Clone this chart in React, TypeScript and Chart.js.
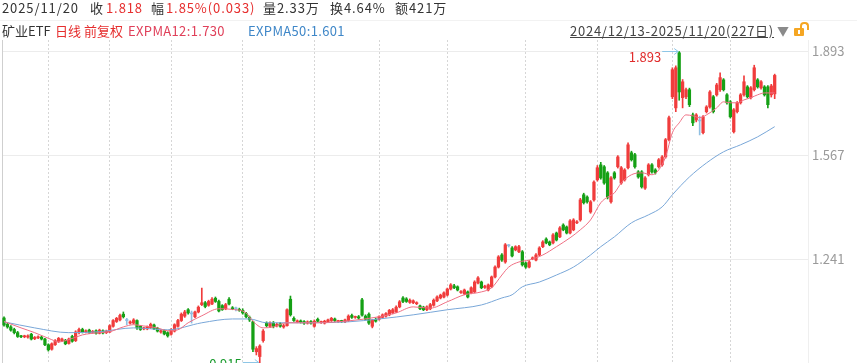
import React, { useEffect, useRef } from "react";
import { Chart, registerables } from "chart.js";
Chart.register(...registerables);

// OHLC of 矿业ETF, 2024/12/13 - 2025/11/20 (227 trading days)
const opens = [
  1.056,1.036,1.028,1.020,1.010,0.999,0.997,0.996,1.005,0.991,0.994,0.996,0.990,0.972,0.958,0.972,0.982,0.985,0.986,0.976,
  0.998,0.985,1.010,1.020,1.012,1.018,1.011,1.016,1.008,1.016,1.010,1.012,1.030,1.045,1.050,1.068,1.048,1.040,1.040,1.048,
  1.030,1.022,1.022,1.026,1.034,1.024,1.012,1.016,1.010,1.005,1.015,1.030,1.048,1.062,1.082,1.069,1.060,1.075,1.098,1.104,
  1.096,1.100,1.118,1.108,1.095,1.085,1.115,1.088,1.085,1.083,1.080,1.070,1.058,1.044,0.950,0.935,0.985,1.040,1.030,1.040,
  1.032,1.038,1.028,1.032,1.115,1.055,1.044,1.047,1.045,1.040,1.045,1.030,1.052,1.042,1.040,1.044,1.048,1.053,1.045,1.046,
  1.044,1.048,1.064,1.058,1.060,1.113,1.062,1.068,1.030,1.052,1.052,1.058,1.062,1.066,1.072,1.076,1.091,1.119,1.116,1.105,
  1.104,1.101,1.094,1.090,1.082,1.085,1.096,1.110,1.119,1.122,1.128,1.147,1.157,1.154,1.136,1.132,1.138,1.135,1.138,1.166,
  1.169,1.152,1.144,1.154,1.185,1.216,1.254,1.232,1.283,1.276,1.270,1.264,1.264,1.229,1.216,1.242,1.238,1.254,1.280,1.304,
  1.295,1.292,1.323,1.311,1.348,1.342,1.323,1.333,1.355,1.364,1.443,1.436,1.389,1.427,1.490,1.537,1.531,1.512,1.421,1.512,
  1.531,1.480,1.490,1.528,1.575,1.569,1.515,1.515,1.464,1.506,1.537,1.521,1.531,1.537,1.562,1.616,1.751,1.716,1.889,1.748,
  1.751,1.773,1.694,1.678,1.675,1.638,1.704,1.719,1.751,1.757,1.773,1.804,1.757,1.735,1.641,1.704,1.732,1.757,1.782,1.748,
  1.773,1.804,1.779,1.782,1.782,1.757,1.760,
];
const highs = [
  1.060,1.040,1.032,1.024,1.014,1.002,1.002,1.003,1.008,0.998,1.000,0.999,0.992,0.975,0.978,0.988,0.995,0.993,0.989,0.993,
  1.002,1.016,1.024,1.024,1.019,1.021,1.017,1.019,1.021,1.019,1.018,1.035,1.051,1.058,1.068,1.075,1.055,1.047,1.054,1.050,
  1.033,1.027,1.031,1.040,1.037,1.027,1.020,1.019,1.013,1.023,1.038,1.052,1.072,1.080,1.086,1.078,1.078,1.094,1.150,1.108,
  1.112,1.120,1.122,1.112,1.098,1.102,1.120,1.092,1.090,1.087,1.085,1.074,1.062,1.046,0.966,0.972,1.020,1.044,1.044,1.045,
  1.040,1.042,1.036,1.085,1.125,1.060,1.050,1.050,1.048,1.047,1.048,1.050,1.056,1.046,1.049,1.053,1.058,1.056,1.049,1.049,
  1.053,1.066,1.068,1.062,1.064,1.118,1.066,1.072,1.052,1.056,1.063,1.069,1.073,1.083,1.086,1.094,1.111,1.123,1.120,1.116,
  1.113,1.107,1.097,1.093,1.094,1.102,1.116,1.126,1.131,1.138,1.150,1.164,1.162,1.157,1.142,1.147,1.141,1.154,1.173,1.186,
  1.172,1.159,1.163,1.188,1.220,1.252,1.258,1.290,1.287,1.280,1.283,1.284,1.268,1.232,1.236,1.248,1.258,1.280,1.299,1.308,
  1.298,1.321,1.326,1.343,1.352,1.345,1.365,1.368,1.362,1.432,1.448,1.440,1.425,1.487,1.535,1.545,1.535,1.516,1.500,1.516,
  1.566,1.532,1.525,1.606,1.580,1.573,1.519,1.519,1.500,1.541,1.541,1.525,1.557,1.566,1.620,1.690,1.842,1.848,1.893,1.805,
  1.778,1.778,1.700,1.698,1.690,1.692,1.723,1.770,1.755,1.793,1.826,1.808,1.761,1.739,1.714,1.736,1.761,1.817,1.786,1.783,
  1.850,1.808,1.802,1.786,1.786,1.790,1.822,
];
const lows = [
  1.030,1.024,1.015,1.006,0.995,0.994,0.994,0.993,0.987,0.988,0.991,0.987,0.969,0.952,0.955,0.970,0.979,0.982,0.972,0.974,
  0.980,0.982,1.006,1.009,1.009,1.007,1.008,1.005,1.006,1.006,1.007,1.010,1.027,1.042,1.047,1.056,1.035,1.037,1.037,1.020,
  1.017,1.019,1.019,1.023,1.019,1.012,1.008,1.003,0.996,1.002,1.012,1.027,1.045,1.058,1.068,1.040,1.057,1.072,1.095,1.088,
  1.093,1.098,1.105,1.075,1.080,1.082,1.097,1.082,1.078,1.077,1.068,1.056,1.045,0.950,0.940,0.915,0.980,1.028,1.026,1.025,
  1.028,1.027,1.024,1.030,1.062,1.045,1.041,1.040,1.036,1.037,1.037,1.027,1.043,1.039,1.037,1.041,1.045,1.045,1.042,1.042,
  1.041,1.045,1.055,1.055,1.052,1.062,1.050,1.036,1.025,1.043,1.049,1.055,1.059,1.063,1.069,1.073,1.088,1.104,1.105,1.102,
  1.101,1.098,1.082,1.079,1.079,1.082,1.093,1.107,1.116,1.119,1.125,1.144,1.148,1.141,1.133,1.129,1.119,1.132,1.135,1.163,
  1.148,1.149,1.141,1.151,1.182,1.213,1.234,1.228,1.279,1.248,1.267,1.261,1.219,1.212,1.213,1.239,1.235,1.251,1.277,1.289,
  1.283,1.289,1.298,1.308,1.330,1.320,1.320,1.330,1.352,1.360,1.414,1.417,1.385,1.423,1.486,1.492,1.476,1.430,1.417,1.492,
  1.527,1.476,1.486,1.524,1.549,1.527,1.495,1.464,1.460,1.502,1.511,1.508,1.527,1.533,1.558,1.612,1.745,1.704,1.740,1.716,
  1.745,1.720,1.660,1.672,1.631,1.634,1.700,1.715,1.700,1.753,1.768,1.769,1.728,1.684,1.637,1.700,1.728,1.753,1.747,1.744,
  1.769,1.778,1.775,1.753,1.716,1.750,1.745,
];
const closes = [
  1.034,1.028,1.018,1.010,0.998,0.997,0.999,1.000,0.990,0.995,0.997,0.990,0.972,0.956,0.975,0.985,0.992,0.990,0.975,0.990,
  0.983,1.012,1.020,1.012,1.016,1.010,1.014,1.008,1.018,1.009,1.015,1.032,1.048,1.055,1.064,1.060,1.048,1.044,1.050,1.025,
  1.020,1.024,1.028,1.036,1.022,1.015,1.016,1.006,1.000,1.020,1.035,1.048,1.068,1.075,1.072,1.069,1.075,1.090,1.104,1.092,
  1.108,1.115,1.108,1.078,1.082,1.098,1.100,1.085,1.085,1.080,1.072,1.060,1.050,0.958,0.960,0.968,1.015,1.032,1.040,1.030,
  1.036,1.030,1.032,1.082,1.066,1.048,1.047,1.043,1.040,1.044,1.040,1.046,1.046,1.043,1.046,1.050,1.055,1.048,1.046,1.045,
  1.050,1.062,1.058,1.059,1.056,1.065,1.052,1.040,1.050,1.046,1.060,1.066,1.070,1.080,1.082,1.090,1.107,1.108,1.108,1.112,
  1.110,1.104,1.085,1.082,1.091,1.098,1.112,1.122,1.128,1.135,1.147,1.160,1.151,1.144,1.139,1.144,1.122,1.151,1.169,1.182,
  1.151,1.156,1.160,1.185,1.216,1.248,1.238,1.286,1.283,1.251,1.280,1.280,1.223,1.216,1.232,1.245,1.254,1.276,1.295,1.292,
  1.286,1.317,1.301,1.339,1.333,1.323,1.361,1.364,1.358,1.427,1.418,1.421,1.421,1.483,1.528,1.496,1.480,1.436,1.496,1.496,
  1.562,1.528,1.521,1.600,1.553,1.531,1.499,1.468,1.496,1.537,1.515,1.512,1.553,1.562,1.616,1.685,1.836,1.842,1.766,1.798,
  1.773,1.726,1.669,1.694,1.675,1.688,1.719,1.766,1.704,1.788,1.811,1.773,1.732,1.688,1.710,1.732,1.757,1.798,1.751,1.779,
  1.842,1.782,1.798,1.757,1.726,1.785,1.818,
];

// first trading day of each month (Jan .. Nov), used for the dotted vertical grid
const monthStarts = [13, 31, 49, 70, 91, 110, 130, 153, 174, 196, 213];
const priceTicks = [1.241, 1.567, 1.893];

// EXPMA lines (day index, value)
const ema12At = [0, 5, 9, 14, 16, 19, 23, 28, 31, 35, 38, 41, 45, 48, 51, 54, 58, 63, 67, 71, 73, 76, 79, 83, 87, 91, 101, 110, 115, 120, 125, 130, 135, 140, 143, 146, 148, 151, 154, 158, 162, 166, 169, 172, 175, 177, 179, 181, 184, 187, 190, 192, 194, 196, 198, 200, 202, 204, 206, 209, 211, 213, 215, 217, 219, 221, 223, 226];
const ema12 = [1.045, 1.025, 1.010, 0.988, 0.981, 0.988, 1.003, 1.010, 1.013, 1.028, 1.035, 1.031, 1.025, 1.016, 1.019, 1.041, 1.063, 1.085, 1.083, 1.072, 1.046, 1.025, 1.028, 1.041, 1.041, 1.041, 1.047, 1.060, 1.072, 1.091, 1.087, 1.107, 1.129, 1.138, 1.151, 1.191, 1.216, 1.232, 1.238, 1.254, 1.280, 1.308, 1.333, 1.364, 1.418, 1.436, 1.449, 1.480, 1.506, 1.512, 1.506, 1.521, 1.562, 1.638, 1.669, 1.694, 1.691, 1.685, 1.694, 1.716, 1.735, 1.732, 1.732, 1.741, 1.748, 1.757, 1.763, 1.763];
const ema50At = [0, 9, 19, 28, 38, 48, 58, 67, 72, 77, 87, 101, 110, 120, 130, 140, 146, 149, 152, 157, 162, 167, 172, 175, 179, 184, 189, 193, 196, 201, 206, 211, 216, 221, 226];
const ema50 = [1.044, 1.025, 1.010, 1.013, 1.025, 1.019, 1.041, 1.053, 1.053, 1.041, 1.041, 1.044, 1.053, 1.066, 1.082, 1.097, 1.119, 1.129, 1.154, 1.169, 1.191, 1.216, 1.254, 1.280, 1.311, 1.355, 1.380, 1.405, 1.443, 1.499, 1.543, 1.578, 1.600, 1.625, 1.657];

const UP = "#f03c3c";
const DOWN = "#15a015";
const FLAT = "#8fbfe2";
const FONT = '"Noto Sans CJK SC", "Noto Sans", sans-serif';

const txt = (left: number, top: number, text: string, color: string, extra: React.CSSProperties = {}) => (
  <span
    style={{
      position: "absolute",
      left,
      top,
      fontSize: 13,
      lineHeight: "16px",
      whiteSpace: "nowrap",
      color,
      fontFamily: FONT,
      ...extra,
    }}
  >
    {text}
  </span>
);

const row1 = { letterSpacing: "0.9px" };
const row2 = { letterSpacing: "0.35px" };

export default function App() {
  const ref = useRef<HTMLCanvasElement>(null);

  useEffect(() => {
    const canvas = ref.current;
    if (!canvas) return;
    const colors = closes.map((c, i) => (c > opens[i] ? UP : c < opens[i] ? DOWN : FLAT));

    const marks = {
      id: "marks",
      beforeDatasetsDraw(chart: any) {
        const { ctx, chartArea } = chart;
        ctx.save();
        ctx.strokeStyle = "#cfcfcf";
        ctx.lineWidth = 1;
        ctx.beginPath();
        ctx.moveTo(Math.floor(chartArea.left) + 0.5, chartArea.top);
        ctx.lineTo(Math.floor(chartArea.left) + 0.5, chartArea.bottom);
        ctx.stroke();
        ctx.restore();
      },
      afterDatasetsDraw(chart: any) {
        const { ctx } = chart;
        const xs = chart.scales.x;
        const ys = chart.scales.y;
        let hi = 0;
        let lo = 0;
        highs.forEach((h, i) => { if (h > highs[hi]) hi = i; });
        lows.forEach((l, i) => { if (l < lows[lo]) lo = i; });
        ctx.save();
        ctx.font = "13px " + FONT;
        const draw = (i: number, v: number, dy: number, color: string) => {
          const px = xs.getPixelForValue(i);
          const py = Math.round(ys.getPixelForValue(v)) - 0.5;
          const x0 = px - 17;
          ctx.strokeStyle = "#8ec6e6";
          ctx.lineWidth = 1;
          ctx.beginPath();
          ctx.moveTo(x0, py);
          ctx.lineTo(px - 1, py);
          ctx.moveTo(px - 1, py);
          ctx.lineTo(px - 5, py - 3);
          ctx.moveTo(px - 1, py);
          ctx.lineTo(px - 5, py + 3);
          ctx.stroke();
          ctx.fillStyle = color;
          ctx.textAlign = "right";
          ctx.textBaseline = "middle";
          ctx.fillText(v.toFixed(3), x0 - 1, py + dy);
        };
        draw(hi, highs[hi], 6, "#e02c2c");
        draw(lo, lows[lo], 2, "#169a2a");
        ctx.restore();
      },
    };

    const chart = new Chart(canvas, {
      type: "bar",
      data: {
        datasets: [
          {
            type: "line",
            label: "EXPMA12",
            data: ema12At.map((x, k) => ({ x, y: ema12[k] })),
            borderColor: "#ef7084",
            borderWidth: 1,
            pointRadius: 0,
            cubicInterpolationMode: "monotone",
            order: 0,
          } as any,
          {
            type: "line",
            label: "EXPMA50",
            data: ema50At.map((x, k) => ({ x, y: ema50[k] })),
            borderColor: "#79a7d8",
            borderWidth: 1,
            pointRadius: 0,
            cubicInterpolationMode: "monotone",
            order: 0,
          } as any,
          {
            type: "bar",
            label: "body",
            data: closes.map((c, i) => ({ x: i, y: [opens[i], c] })),
            backgroundColor: colors,
            barThickness: 2.6,
            minBarLength: 1,
            grouped: false,
            order: 1,
          } as any,
          {
            type: "bar",
            label: "wick",
            data: highs.map((h, i) => ({ x: i, y: [lows[i], h] })),
            backgroundColor: colors,
            barThickness: 1,
            grouped: false,
            order: 2,
          } as any,
        ],
      },
      options: {
        responsive: false,
        animation: false,
        devicePixelRatio: 1,
        layout: { padding: { top: 40, left: 2, right: 0, bottom: 0 } },
        plugins: { legend: { display: false }, tooltip: { enabled: false } },
        scales: {
          x: {
            type: "linear",
            offset: false,
            min: -0.59,
            max: 235.77,
            afterBuildTicks: (s: any) => {
              s.ticks = monthStarts.map((v) => ({ value: v }));
            },
            afterFit: (s: any) => {
              s.height = 0;
              s.paddingLeft = 0;
              s.paddingRight = 0;
            },
            ticks: { display: false },
            grid: { color: "#d6d6d6", drawTicks: false, offset: false },
            border: { display: false, dash: [2, 2] },
          },
          y: {
            position: "right",
            min: 0.9147,
            max: 1.9292,
            afterBuildTicks: (s: any) => {
              s.ticks = priceTicks.map((v) => ({ value: v }));
            },
            afterFit: (s: any) => {
              s.width = 49;
              s.paddingTop = 0;
              s.paddingBottom = 0;
            },
            ticks: {
              padding: 4,
              color: "#9a9a9a",
              font: { size: 13, family: FONT },
              callback: (v: any) => Number(v).toFixed(3),
            },
            grid: { color: "#ececec", drawTicks: false },
            border: { display: true, color: "#efefef" },
          },
        },
      } as any,
      plugins: [marks],
    });
    return () => chart.destroy();
  }, []);

  return (
    <div style={{ position: "relative", width: 857, height: 363, overflow: "hidden", background: "#fff" }}>
      <style>{"body{margin:0}"}</style>
      <canvas ref={ref} width={857} height={363} style={{ position: "absolute", left: 0, top: 0, width: 857, height: 363 }} />
      <div style={{ position: "absolute", left: 0, top: 20, width: 857, height: 1, background: "#f2f2f2" }} />
      {txt(2, 0, "2025/11/20", "#333", row1)}
      {txt(90, 0, "收", "#333")}
      {txt(106, 0, "1.818", "#e62e2e", row1)}
      {txt(151, 0, "幅", "#333")}
      {txt(166, 0, "1.85%(0.033)", "#e62e2e", row1)}
      {txt(263, 0, "量2.33万", "#333", row1)}
      {txt(330, 0, "换4.64%", "#333", row1)}
      {txt(395, 0, "额421万", "#333", row1)}
      {txt(2, 23, "矿业ETF", "#333")}
      {txt(55, 23, "日线 前复权", "#e62e2e")}
      {txt(128, 23, "EXPMA12:1.730", "#e0405a", row2)}
      {txt(248, 23, "EXPMA50:1.601", "#3f87c8", row2)}
      {txt(570, 23, "2024/12/13-2025/11/20(227日)", "#444", { textDecoration: "underline", letterSpacing: "0.75px" })}
      {txt(777, 23, "▼", "#8a8a8a", { fontSize: 12 })}
      <div style={{ position: "absolute", left: 794, top: 28, width: 10, height: 8, background: "#f5a623", borderRadius: 1 }}>
        <div style={{ position: "absolute", left: 4, top: 2, width: 2, height: 4, background: "#fff" }} />
      </div>
      <div
        style={{
          position: "absolute",
          left: 800,
          top: 22,
          width: 5,
          height: 6,
          border: "2px solid #f5a623",
          borderBottom: "none",
          borderRadius: "4px 4px 0 0",
        }}
      />
    </div>
  );
}
